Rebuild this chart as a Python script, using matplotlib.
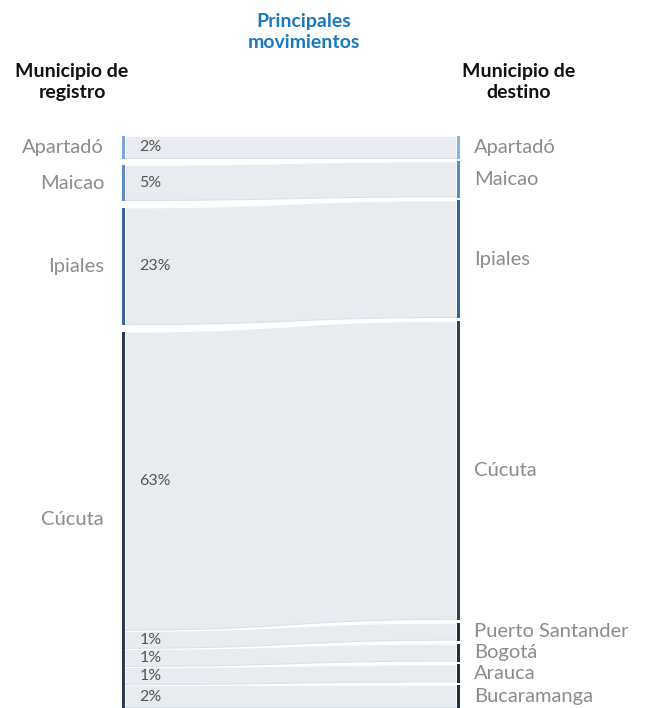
import matplotlib
matplotlib.use("Agg")
import matplotlib.pyplot as plt
import numpy as np
from matplotlib.patches import Polygon, Rectangle

# ---------------- data ----------------
sources = ["Apartadó", "Maicao", "Ipiales", "Cúcuta"]
targets = ["Apartadó", "Maicao", "Ipiales", "Cúcuta",
           "Puerto Santander", "Bogotá", "Arauca", "Bucaramanga"]
link_source = ["Apartadó", "Maicao", "Ipiales", "Cúcuta",
               "Cúcuta", "Cúcuta", "Cúcuta", "Cúcuta"]
link_target = ["Apartadó", "Maicao", "Ipiales", "Cúcuta",
               "Puerto Santander", "Bogotá", "Arauca", "Bucaramanga"]
link_value = [2, 5, 23, 63, 1, 1, 1, 2]
link_label = ["2%", "5%", "23%", "63%", "1%", "1%", "1%", "2%"]

title = "Principales\nmovimientos"
left_header = "Municipio de\nregistro"
right_header = "Municipio de\ndestino"

src_colors = ["#7fa8da", "#5b8cc6", "#3b6598", "#2c3e58"]
tgt_colors = ["#8ab2de", "#5b8cc6", "#3b6598", "#2e4260",
              "#1f2f47", "#1f2f47", "#1f2f47", "#1f2f47"]

# ---------------- layout ----------------
W, H = 645, 708
fig = plt.figure(figsize=(W / 100, H / 100), dpi=100)
ax = fig.add_axes([0, 0, 1, 1])
ax.set_xlim(0, W)
ax.set_ylim(H, 0)
ax.axis("off")

top, bottom = 136, 708
xl, xr, nw = 122, 457, 3.2
right_gap = 2.7
base = 3.0  # minimum band thickness (in value units)

band = [v + base for v in link_value]
n_right = len(targets)
scale = (bottom - top - right_gap * (n_right - 1)) / sum(band)
lh = [b * scale for b in band]

def node_heights(nodes, key):
    return [sum(h for h, k in zip(lh, key) if k == n) for n in nodes]

sh = node_heights(sources, link_source)
th = node_heights(targets, link_target)
left_gap = (bottom - top - sum(sh)) / (len(sources) - 1)

def stack(heights, gap):
    ys, y = [], top
    for h in heights:
        ys.append(y)
        y += h + gap
    return ys

sy = stack(sh, left_gap)
ty = stack(th, right_gap)

# ---------------- links ----------------
s_off = dict(zip(sources, sy))
t_off = dict(zip(targets, ty))
flow_fc = "#e8ecf1"
x0, x1 = xl + nw, xr
t = np.linspace(0, 1, 60)

def bez(a, b):
    xm = (x0 + x1) / 2
    xs = (1 - t) ** 3 * x0 + 3 * (1 - t) ** 2 * t * xm + \
         3 * (1 - t) * t ** 2 * xm + t ** 3 * x1
    ys = (1 - t) ** 3 * a + 3 * (1 - t) ** 2 * t * a + 3 * (1 - t) * t ** 2 * b + t ** 3 * b
    return xs, ys

for s, tg, h, lab in zip(link_source, link_target, lh, link_label):
    ya = s_off[s]
    yb = t_off[tg]
    s_off[s] += h
    t_off[tg] += h
    xs, ytop = bez(ya, yb)
    _, ybot = bez(ya + h, yb + h)
    pts = np.vstack([np.column_stack([xs, ytop]),
                     np.column_stack([xs[::-1], ybot[::-1]])])
    ax.add_patch(Polygon(pts, closed=True, facecolor=flow_fc,
                         edgecolor="white", lw=1.2, zorder=1))
    ax.plot(xs, ybot - 0.8, color="#d9e0e8", lw=0.8, zorder=1.5)
    ax.text(x0 + 14, ya + h / 2, lab, ha="left", va="center", fontsize=11.5,
            family="Lato", color="#555555", zorder=3)

# ---------------- nodes ----------------
label_kw = dict(va="center", fontsize=14.5, family="Lato", color="#8c8c8c")
for n, y, h, c in zip(sources, sy, sh, src_colors):
    ax.add_patch(Rectangle((xl, y), nw, h, facecolor=c, edgecolor="none", zorder=2))
    ax.text(xl - 18, y + h / 2, n, ha="right", **label_kw)
for n, y, h, c in zip(targets, ty, th, tgt_colors):
    ax.add_patch(Rectangle((xr, y), nw, h, facecolor=c, edgecolor="none", zorder=2))
    ax.text(xr + nw + 14, y + h / 2, n, ha="left", **label_kw)

# ---------------- headers ----------------
hdr_kw = dict(ha="center", va="center", fontsize=14, family="Lato",
              fontweight="bold", linespacing=1.3)
ax.text(304, 32, title, color="#1b79bf", **hdr_kw)
ax.text(72, 82, left_header, color="#111111", **hdr_kw)
ax.text(519, 82, right_header, color="#111111", **hdr_kw)

fig.savefig("out.png", dpi=100, facecolor="white")
